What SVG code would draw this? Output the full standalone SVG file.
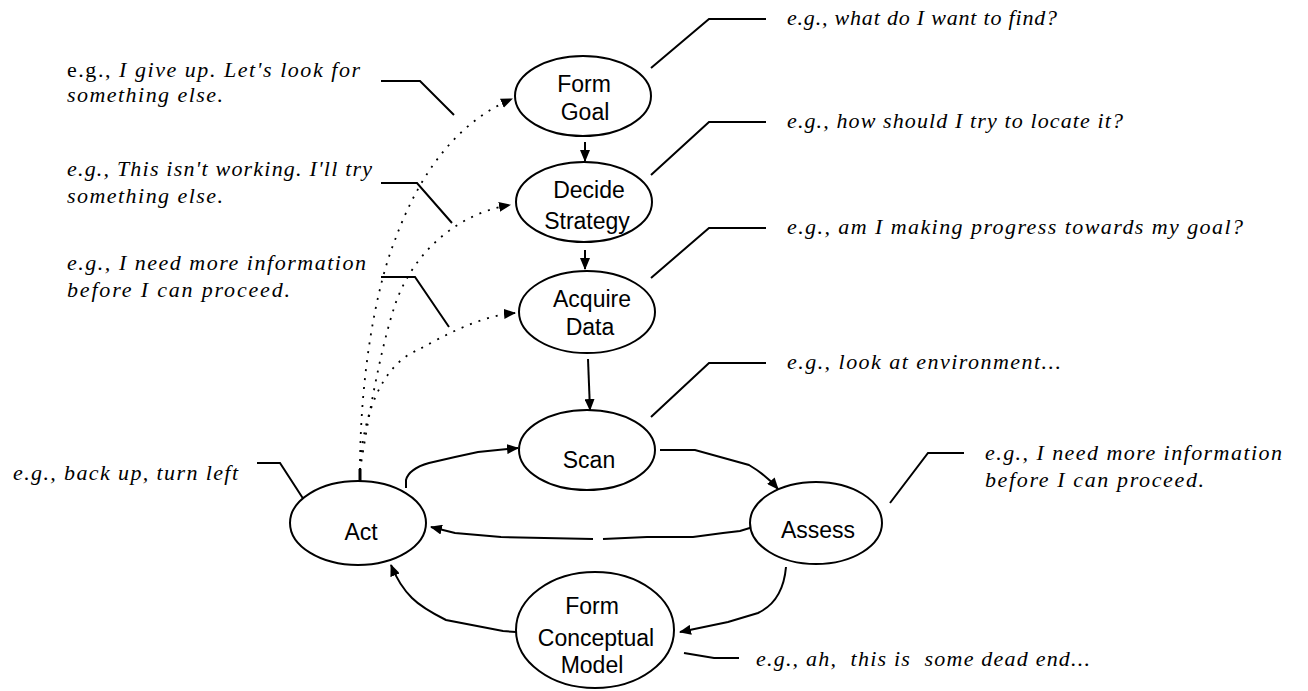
<svg xmlns="http://www.w3.org/2000/svg" width="1308" height="691" viewBox="0 0 1308 691">
<style>
.node ellipse{fill:#fff;stroke:#000;stroke-width:2}
.node text{font-family:"Liberation Sans",Arial,sans-serif;font-size:23px;text-anchor:middle;fill:#000}
.conn path,.conn line,.conn polyline{fill:none;stroke:#000;stroke-width:2}
.conn .dot{stroke-width:1.8;stroke-dasharray:2 7}
.note{font-family:"Liberation Serif","Times New Roman",serif;font-size:22px;font-style:italic;fill:#000}
.up{font-style:normal}
</style>
<defs>
<marker id="ah" viewBox="0 0 12 10" refX="11" refY="5" markerWidth="12" markerHeight="10" orient="auto" markerUnits="userSpaceOnUse"><path d="M0,0 L12,5 L0,10 z" fill="#000" stroke="none"/></marker>
</defs>
<rect width="1308" height="691" fill="#fff"/>
<g id="connectors" class="conn">
<path d="M585,142 L585,161" marker-end="url(#ah)"/>
<path d="M585,250 L585,269" marker-end="url(#ah)"/>
<path d="M588,359 L590,410" marker-end="url(#ah)"/>
<path d="M406,488 L406,480 C408,472 415,467 429,463 L455,457 L478,452 L518,448" marker-end="url(#ah)"/>
<path d="M660,450 L695,450 L749,465 Q766,475 778,489" marker-end="url(#ah)"/>
<path d="M753,527 L740,531 L723,533 L693,537 L647,537 L603,539"/>
<path d="M593,539 L501,537 L455,533 L431,527" marker-end="url(#ah)"/>
<path d="M786,567 C784,590 775,605 758,613 L728,622 L680,632" marker-end="url(#ah)"/>
<path d="M516,632 L503,631 L446,620 C430,612 420,606 412,598 C404,590 397,580 391,565" marker-end="url(#ah)"/>
<line x1="360" y1="469" x2="360" y2="482" style="stroke-width:3"/>
<path class="dot" d="M360,470 C360,380 375,290 395,240 C415,185 450,125 512,99" marker-end="url(#ah)"/>
<path class="dot" d="M360,470 C368,420 380,350 395,305 C410,260 450,215 510,205" marker-end="url(#ah)"/>
<path class="dot" d="M360,470 C362,420 380,365 418,350 C445,335 480,316 515,313" marker-end="url(#ah)"/>
<polyline points="381,81 420,81 454,115"/>
<polyline points="381,183 417,183 452,223"/>
<polyline points="381,277 415,277 449,327"/>
<polyline points="257,463 280,463 304,500"/>
<polyline points="766,19 709,19 651,68"/>
<polyline points="766,122 709,122 651,175"/>
<polyline points="766,228 709,228 651,278"/>
<polyline points="766,363 709,363 651,417"/>
<polyline points="964,453 928,453 890,503"/>
<polyline points="684,653 714,658 739,658"/>
</g>
<g id="form-goal" class="node"><ellipse cx="583" cy="96" rx="68" ry="40"/><text x="584" y="92">Form</text><text x="585" y="120">Goal</text></g>
<g id="decide-strategy" class="node"><ellipse cx="584" cy="202" rx="68" ry="40"/><text x="589" y="198">Decide</text><text x="587" y="229">Strategy</text></g>
<g id="acquire-data" class="node"><ellipse cx="587" cy="312" rx="68" ry="41"/><text x="592" y="307">Acquire</text><text x="590" y="335">Data</text></g>
<g id="scan" class="node"><ellipse cx="587" cy="450" rx="68" ry="40"/><text x="589" y="468">Scan</text></g>
<g id="assess" class="node"><ellipse cx="816" cy="523" rx="66" ry="41"/><text x="818" y="538">Assess</text></g>
<g id="act" class="node"><ellipse cx="358" cy="523" rx="68" ry="42"/><text x="361" y="540">Act</text></g>
<g id="form-conceptual-model" class="node"><ellipse cx="595" cy="630" rx="79" ry="58"/><text x="592" y="614">Form</text><text x="596" y="646">Conceptual</text><text x="592" y="673">Model</text></g>
<g id="notes">
<text class="note" x="67" y="77" textLength="293"><tspan class="up">e.g., </tspan>I give up. Let's look for</text>
<text class="note" x="67" y="102" textLength="156">something else.</text>
<text class="note" x="67" y="176" textLength="305">e.g., This isn't working. I'll try</text>
<text class="note" x="67" y="203" textLength="156">something else.</text>
<text class="note" x="67" y="270" textLength="299">e.g., I need more information</text>
<text class="note" x="67" y="297" textLength="223">before I can proceed.</text>
<text class="note" x="13" y="480" textLength="225">e.g., back up, turn left</text>
<text class="note" x="787" y="25" textLength="270">e.g., what do I want to find?</text>
<text class="note" x="787" y="128" textLength="336">e.g., how should I try to locate it?</text>
<text class="note" x="787" y="234" textLength="456">e.g., am I making progress towards my goal?</text>
<text class="note" x="787" y="369" textLength="274">e.g., look at environment...</text>
<text class="note" x="985" y="460" textLength="297">e.g., I need more information</text>
<text class="note" x="985" y="487" textLength="219">before I can proceed.</text>
<text class="note" x="756" y="666" textLength="334" xml:space="preserve">e.g., ah,  this is  some dead end...</text>
</g>
</svg>
